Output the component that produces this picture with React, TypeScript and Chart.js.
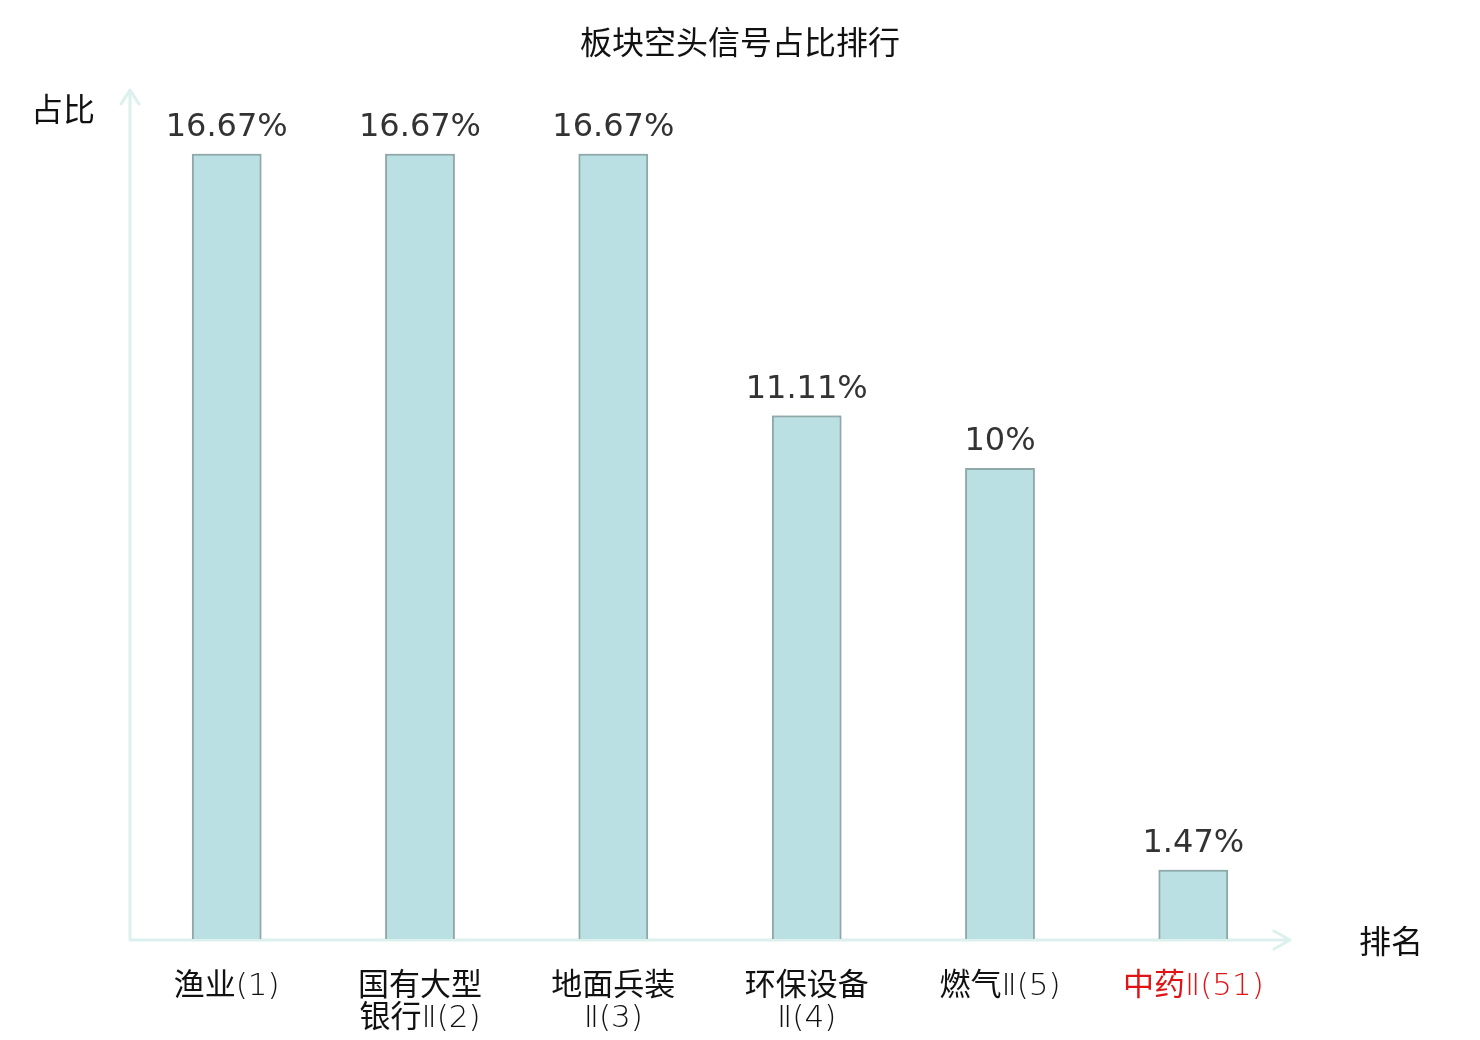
import React, { useRef, useEffect } from 'react';
import { Chart, registerables } from 'chart.js';

Chart.register(...registerables);

const chartTitle = '板块空头信号占比排行';
const categories: (string | string[])[] = [
  '渔业(1)',
  ['国有大型', '银行Ⅱ(2)'],
  ['地面兵装', 'Ⅱ(3)'],
  ['环保设备', 'Ⅱ(4)'],
  '燃气Ⅱ(5)',
  '中药Ⅱ(51)',
];
const shares = [16.67, 16.67, 16.67, 11.11, 10, 1.47];
const valueLabels = ['16.67%', '16.67%', '16.67%', '11.11%', '10%', '1.47%'];
const highlightIndex = 5;
const yAxisName = '占比';
const xAxisName = '排名';

const CJK = '"Noto Sans CJK SC", "DejaVu Sans", sans-serif';
const NUM = '"DejaVu Sans", sans-serif';
const AXIS_COLOR = '#dcf1ed';
const CJK_TICK_FONT = `31px "Noto Sans CJK SC", sans-serif`;
const LATIN_TICK_FONT = `200 31px "DejaVu Sans", "Noto Sans CJK SC", sans-serif`;
const isCjk = /[\u4e00-\u9fff]/;

// category labels: Chinese in regular CJK face, the rest in thin DejaVu
function drawTickLine(ctx: CanvasRenderingContext2D, text: string, cx: number, baseY: number) {
  const parts = text.match(/[\u4e00-\u9fff]+|[^\u4e00-\u9fff]+/g) || [];
  const widths = parts.map((p) => {
    ctx.font = isCjk.test(p) ? CJK_TICK_FONT : LATIN_TICK_FONT;
    return ctx.measureText(p).width;
  });
  let x = cx - widths.reduce((a, b) => a + b, 0) / 2;
  parts.forEach((p, i) => {
    ctx.font = isCjk.test(p) ? CJK_TICK_FONT : LATIN_TICK_FONT;
    ctx.fillText(p, x, baseY);
    x += widths[i];
  });
}

const decorPlugin = {
  id: 'decor',
  afterDatasetsDraw(chart: any) {
    const { ctx, chartArea } = chart;
    const { left, bottom } = chartArea;
    ctx.save();

    // axes with arrow heads
    ctx.strokeStyle = AXIS_COLOR;
    ctx.lineWidth = 3;
    ctx.lineCap = 'round';
    ctx.lineJoin = 'round';
    const topY = 90;
    const endX = 1290;
    ctx.beginPath();
    ctx.moveTo(left, bottom + 1);
    ctx.lineTo(left, topY);
    ctx.moveTo(left - 9, topY + 14);
    ctx.lineTo(left, topY);
    ctx.lineTo(left + 9, topY + 14);
    ctx.moveTo(left, bottom + 1);
    ctx.lineTo(endX, bottom + 1);
    ctx.moveTo(endX - 16, bottom - 8);
    ctx.lineTo(endX, bottom + 1);
    ctx.lineTo(endX - 16, bottom + 10);
    ctx.stroke();

    // redraw bars over the axis line
    chart.getDatasetMeta(0).data.forEach((bar: any) => bar.draw(ctx));

    // value labels
    ctx.fillStyle = '#333';
    ctx.font = `32px ${NUM}`;
    ctx.textAlign = 'center';
    ctx.textBaseline = 'alphabetic';
    chart.getDatasetMeta(0).data.forEach((bar: any, i: number) => {
      ctx.fillText(valueLabels[i], bar.x, bar.y - 18);
    });

    // category labels
    const xScale = chart.scales.x;
    ctx.textAlign = 'left';
    ctx.textBaseline = 'alphabetic';
    categories.forEach((label, i) => {
      const lines = Array.isArray(label) ? label : [label];
      const cx = xScale.getPixelForValue(i);
      ctx.fillStyle = i === highlightIndex ? '#e01414' : '#111';
      lines.forEach((line, j) => drawTickLine(ctx, line, cx, bottom + 56 + j * 32));
    });

    // title & axis names
    ctx.fillStyle = '#111';
    ctx.font = `32px ${CJK}`;
    ctx.textAlign = 'center';
    ctx.textBaseline = 'middle';
    ctx.fillText(chartTitle, 740, 42);
    ctx.fillText(yAxisName, 63, 109);
    ctx.fillText(xAxisName, 1391, 941);
    ctx.restore();
  },
};

export default function App() {
  const canvasRef = useRef<HTMLCanvasElement>(null);

  useEffect(() => {
    if (!canvasRef.current) return;
    const chart = new Chart(canvasRef.current, {
      type: 'bar',
      data: {
        labels: categories,
        datasets: [
          {
            data: shares,
            backgroundColor: '#bbe0e3',
            borderColor: '#8fa9aa',
            borderWidth: 2,
            barPercentage: 0.36,
            categoryPercentage: 1,
          },
        ],
      },
      options: {
        animation: false,
        responsive: true,
        maintainAspectRatio: false,
        layout: { padding: { left: 130, right: 190, top: 91, bottom: 1 } },
        plugins: {
          legend: { display: false },
          title: { display: false },
          tooltip: { enabled: false },
        },
        scales: {
          x: {
            grid: { display: false, drawTicks: false },
            border: { display: false },
            afterFit: (scale: any) => {
              scale.height = 100;
            },
            ticks: { display: false },
          },
          y: {
            display: false,
            min: 0,
            max: 18,
          },
        },
      },
      plugins: [decorPlugin],
    });
    return () => chart.destroy();
  }, []);

  return (
    <div style={{ position: 'fixed', left: 0, top: 0, width: 1480, height: 1040, background: '#fff' }}>
      <canvas ref={canvasRef} />
    </div>
  );
}
